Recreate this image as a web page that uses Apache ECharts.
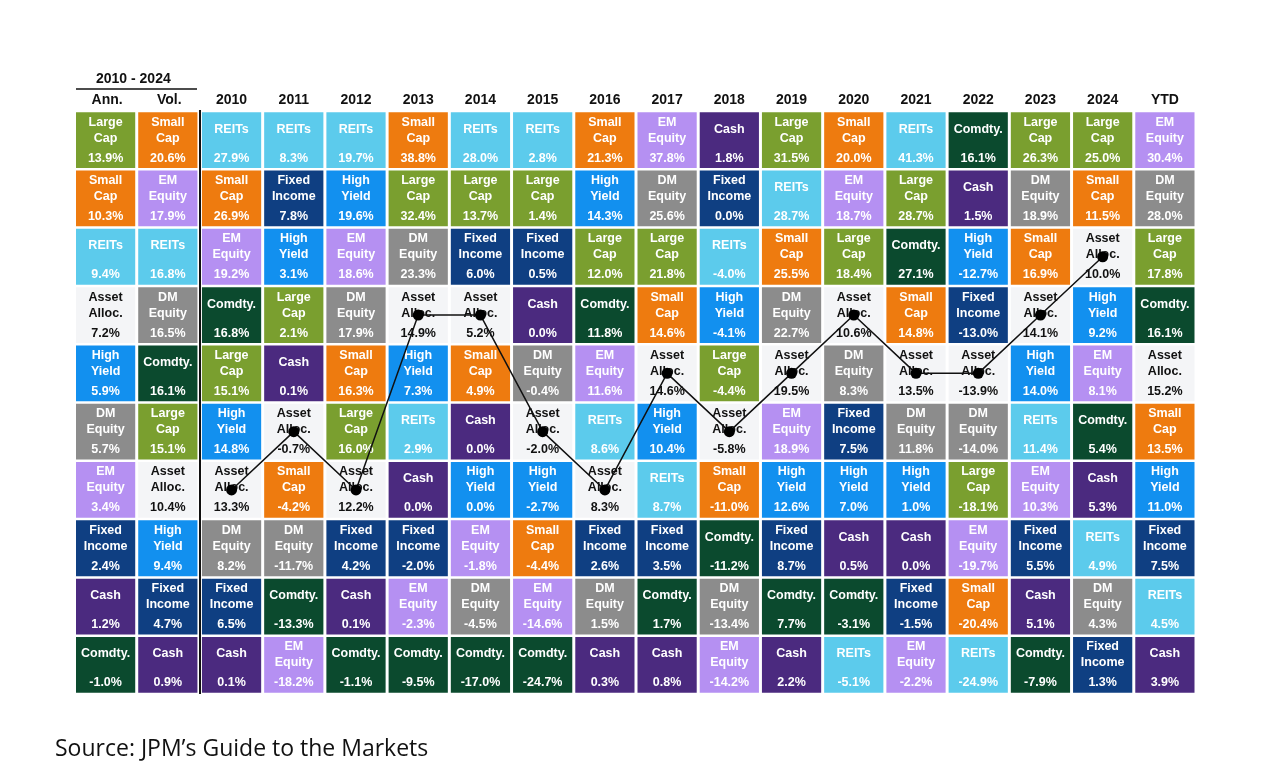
<!DOCTYPE html>
<html>
<head>
<meta charset="utf-8">
<script src="https://cdn.jsdelivr.net/npm/echarts@6/dist/echarts.min.js"></script>
<style>
  html, body { margin: 0; padding: 0; background: #fff; }
  #main { width: 1272px; height: 780px; }
</style>
</head>
<body>
<div id="main"></div>
<script>
var columns = ['Ann.', 'Vol.', '2010', '2011', '2012', '2013', '2014', '2015', '2016',
  '2017', '2018', '2019', '2020', '2021', '2022', '2023', '2024', 'YTD'];

// each column, best to worst: [asset class, return %]
var ann = [['Large Cap', 13.9], ['Small Cap', 10.3], ['REITs', 9.4], ['Asset Alloc.', 7.2], ['High Yield', 5.9],
  ['DM Equity', 5.7], ['EM Equity', 3.4], ['Fixed Income', 2.4], ['Cash', 1.2], ['Comdty.', -1.0]];
var vol = [['Small Cap', 20.6], ['EM Equity', 17.9], ['REITs', 16.8], ['DM Equity', 16.5], ['Comdty.', 16.1],
  ['Large Cap', 15.1], ['Asset Alloc.', 10.4], ['High Yield', 9.4], ['Fixed Income', 4.7], ['Cash', 0.9]];
var y2010 = [['REITs', 27.9], ['Small Cap', 26.9], ['EM Equity', 19.2], ['Comdty.', 16.8], ['Large Cap', 15.1],
  ['High Yield', 14.8], ['Asset Alloc.', 13.3], ['DM Equity', 8.2], ['Fixed Income', 6.5], ['Cash', 0.1]];
var y2011 = [['REITs', 8.3], ['Fixed Income', 7.8], ['High Yield', 3.1], ['Large Cap', 2.1], ['Cash', 0.1],
  ['Asset Alloc.', -0.7], ['Small Cap', -4.2], ['DM Equity', -11.7], ['Comdty.', -13.3], ['EM Equity', -18.2]];
var y2012 = [['REITs', 19.7], ['High Yield', 19.6], ['EM Equity', 18.6], ['DM Equity', 17.9], ['Small Cap', 16.3],
  ['Large Cap', 16.0], ['Asset Alloc.', 12.2], ['Fixed Income', 4.2], ['Cash', 0.1], ['Comdty.', -1.1]];
var y2013 = [['Small Cap', 38.8], ['Large Cap', 32.4], ['DM Equity', 23.3], ['Asset Alloc.', 14.9], ['High Yield', 7.3],
  ['REITs', 2.9], ['Cash', 0.0], ['Fixed Income', -2.0], ['EM Equity', -2.3], ['Comdty.', -9.5]];
var y2014 = [['REITs', 28.0], ['Large Cap', 13.7], ['Fixed Income', 6.0], ['Asset Alloc.', 5.2], ['Small Cap', 4.9],
  ['Cash', 0.0], ['High Yield', 0.0], ['EM Equity', -1.8], ['DM Equity', -4.5], ['Comdty.', -17.0]];
var y2015 = [['REITs', 2.8], ['Large Cap', 1.4], ['Fixed Income', 0.5], ['Cash', 0.0], ['DM Equity', -0.4],
  ['Asset Alloc.', -2.0], ['High Yield', -2.7], ['Small Cap', -4.4], ['EM Equity', -14.6], ['Comdty.', -24.7]];
var y2016 = [['Small Cap', 21.3], ['High Yield', 14.3], ['Large Cap', 12.0], ['Comdty.', 11.8], ['EM Equity', 11.6],
  ['REITs', 8.6], ['Asset Alloc.', 8.3], ['Fixed Income', 2.6], ['DM Equity', 1.5], ['Cash', 0.3]];
var y2017 = [['EM Equity', 37.8], ['DM Equity', 25.6], ['Large Cap', 21.8], ['Small Cap', 14.6], ['Asset Alloc.', 14.6],
  ['High Yield', 10.4], ['REITs', 8.7], ['Fixed Income', 3.5], ['Comdty.', 1.7], ['Cash', 0.8]];
var y2018 = [['Cash', 1.8], ['Fixed Income', 0.0], ['REITs', -4.0], ['High Yield', -4.1], ['Large Cap', -4.4],
  ['Asset Alloc.', -5.8], ['Small Cap', -11.0], ['Comdty.', -11.2], ['DM Equity', -13.4], ['EM Equity', -14.2]];
var y2019 = [['Large Cap', 31.5], ['REITs', 28.7], ['Small Cap', 25.5], ['DM Equity', 22.7], ['Asset Alloc.', 19.5],
  ['EM Equity', 18.9], ['High Yield', 12.6], ['Fixed Income', 8.7], ['Comdty.', 7.7], ['Cash', 2.2]];
var y2020 = [['Small Cap', 20.0], ['EM Equity', 18.7], ['Large Cap', 18.4], ['Asset Alloc.', 10.6], ['DM Equity', 8.3],
  ['Fixed Income', 7.5], ['High Yield', 7.0], ['Cash', 0.5], ['Comdty.', -3.1], ['REITs', -5.1]];
var y2021 = [['REITs', 41.3], ['Large Cap', 28.7], ['Comdty.', 27.1], ['Small Cap', 14.8], ['Asset Alloc.', 13.5],
  ['DM Equity', 11.8], ['High Yield', 1.0], ['Cash', 0.0], ['Fixed Income', -1.5], ['EM Equity', -2.2]];
var y2022 = [['Comdty.', 16.1], ['Cash', 1.5], ['High Yield', -12.7], ['Fixed Income', -13.0], ['Asset Alloc.', -13.9],
  ['DM Equity', -14.0], ['Large Cap', -18.1], ['EM Equity', -19.7], ['Small Cap', -20.4], ['REITs', -24.9]];
var y2023 = [['Large Cap', 26.3], ['DM Equity', 18.9], ['Small Cap', 16.9], ['Asset Alloc.', 14.1], ['High Yield', 14.0],
  ['REITs', 11.4], ['EM Equity', 10.3], ['Fixed Income', 5.5], ['Cash', 5.1], ['Comdty.', -7.9]];
var y2024 = [['Large Cap', 25.0], ['Small Cap', 11.5], ['Asset Alloc.', 10.0], ['High Yield', 9.2], ['EM Equity', 8.1],
  ['Comdty.', 5.4], ['Cash', 5.3], ['REITs', 4.9], ['DM Equity', 4.3], ['Fixed Income', 1.3]];
var ytd = [['EM Equity', 30.4], ['DM Equity', 28.0], ['Large Cap', 17.8], ['Comdty.', 16.1], ['Asset Alloc.', 15.2],
  ['Small Cap', 13.5], ['High Yield', 11.0], ['Fixed Income', 7.5], ['REITs', 4.5], ['Cash', 3.9]];

var table = [ann, vol, y2010, y2011, y2012, y2013, y2014, y2015, y2016, y2017,
  y2018, y2019, y2020, y2021, y2022, y2023, y2024, ytd];

var colors = {
  'Large Cap': '#7a9f2f',
  'Small Cap': '#ee7b0f',
  'REITs': '#5ccbec',
  'EM Equity': '#b590f2',
  'Fixed Income': '#0f3f82',
  'High Yield': '#1290ef',
  'Cash': '#4b2a7f',
  'DM Equity': '#8c8c8c',
  'Comdty.': '#0b4a2e',
  'Asset Alloc.': '#f4f5f7'
};

var cells = [];
table.forEach(function (col, c) {
  col.forEach(function (d, r) {
    cells.push([c, r, d[0], d[1]]);
  });
});

// Asset Alloc. position for 2010..2024
var allocLine = [];
for (var c = 2; c <= 16; c++) {
  for (var r = 0; r < table[c].length; r++) {
    if (table[c][r][0] === 'Asset Alloc.') allocLine.push([c, r]);
  }
}

var chartDom = document.getElementById('main');
var myChart = echarts.init(chartDom);
var option;

var FONT = '"Liberation Sans", Arial, sans-serif';

function renderCell(params, api) {
  var col = api.value(0);
  var pt = api.coord([col, api.value(1)]);
  var size = api.size([1, 1]);
  var name = api.value(2);
  var val = api.value(3);
  var cx = col < 2 ? pt[0] - 1.5 : pt[0];   // 2010-2024 block sits a little apart
  var w = size[0] - 3, h = size[1] - 2.5;
  var x0 = cx - w / 2, y0 = pt[1] - h / 2;
  var fg = name === 'Asset Alloc.' ? '#111' : '#fff';
  var words = name === 'Comdty.' || name === 'REITs' || name === 'Cash' ? [name] : name.split(' ');
  var children = [{
    type: 'rect',
    shape: { x: x0, y: y0, width: w, height: h },
    style: { fill: colors[name] }
  }];
  var lineY = words.length === 1 ? [pt[1] - 11] : [pt[1] - 18, pt[1] - 2];
  words.forEach(function (t, i) {
    children.push({
      type: 'text',
      style: {
        text: t, x: cx, y: lineY[i], fill: fg,
        font: 'bold 12.5px ' + FONT, align: 'center', verticalAlign: 'middle'
      }
    });
  });
  children.push({
    type: 'text',
    style: {
      text: val.toFixed(1) + '%', x: cx, y: pt[1] + 18, fill: fg,
      font: 'bold 12.5px ' + FONT, align: 'center', verticalAlign: 'middle'
    }
  });
  return { type: 'group', children: children };
}

option = {
  animation: false,
  backgroundColor: '#fff',
  grid: { left: 76, right: 76, top: 111, bottom: 86 },
  xAxis: {
    type: 'category',
    data: columns,
    position: 'top',
    axisLine: { show: false },
    axisTick: { show: false },
    axisLabel: { color: '#111', fontWeight: 'bold', fontSize: 14, fontFamily: FONT, margin: 4 },
    splitLine: { show: false }
  },
  yAxis: {
    type: 'category',
    data: ['1', '2', '3', '4', '5', '6', '7', '8', '9', '10'],
    inverse: true,
    show: false
  },
  graphic: [
    { type: 'text', left: 136 - 40, top: 72, style: { text: '2010 - 2024', font: 'bold 14px ' + FONT, fill: '#111', width: 80, align: 'center' } },
    { type: 'line', shape: { x1: 76, y1: 89, x2: 197, y2: 89 }, style: { stroke: '#111', lineWidth: 1.5 } },
    { type: 'line', shape: { x1: 200, y1: 110, x2: 200, y2: 694 }, style: { stroke: '#111', lineWidth: 2 }, z: 10 },
    { type: 'text', left: 55, top: 738, style: { text: 'Source: JPM\u2019s Guide to the Markets', font: '23px "Open Sans", sans-serif', fill: '#111' } }
  ],
  series: [
    {
      type: 'custom',
      renderItem: renderCell,
      data: cells,
      encode: { x: 0, y: 1 },
      z: 2
    },
    {
      type: 'line',
      data: allocLine,
      symbol: 'circle',
      symbolSize: 11,
      itemStyle: { color: '#000' },
      lineStyle: { color: '#111', width: 1.5 },
      z: 5
    }
  ]
};

option && myChart.setOption(option);
</script>
</body>
</html>
